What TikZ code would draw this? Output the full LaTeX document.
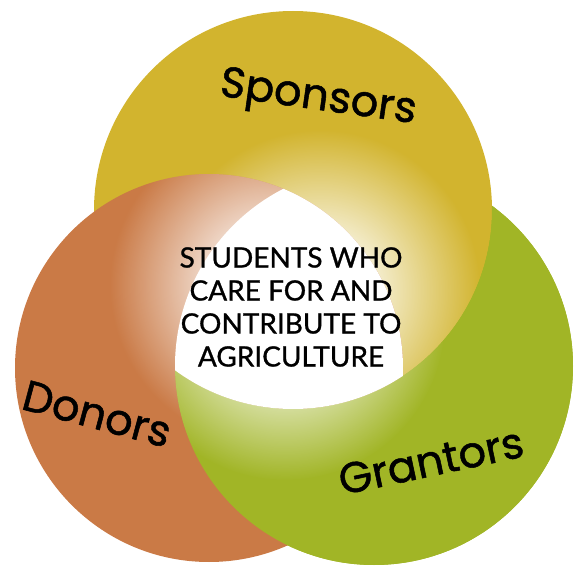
\documentclass[tikz,border=0pt]{standalone}
\usepackage{fontspec}
\setmainfont{Poppins}
\newfontfamily\namefont{Poppins}[FakeBold=1.2]
\newfontfamily\corefont{Lato}[FakeBold=1]
\usetikzlibrary{fadings}

\definecolor{sponsorcol}{RGB}{210,180,46}
\definecolor{donorcol}{RGB}{202,122,70}
\definecolor{grantorcol}{RGB}{161,181,38}

% white glow towards the middle
\pgfdeclareradialshading{glowshade}{\pgfpointorigin}{color(0bp)=(pgftransparent!0); color(5bp)=(pgftransparent!5); color(25bp)=(pgftransparent!100); color(50bp)=(pgftransparent!100)}
\pgfdeclarefading{glow}{\pgfuseshading{glowshade}}

\begin{document}
\begin{tikzpicture}[x=1pt,y=-1pt,
	groupname/.style={font=\namefont\fontsize{43}{48}\selectfont,inner sep=0pt},
	core/.style={font=\corefont\fontsize{28}{33}\selectfont,align=center,inner sep=0pt}]
	\useasboundingbox (0,0) rectangle (582,567);
	\coordinate (spons) at (293,210); % centres of the circles
	\coordinate (don) at (209,368);
	\coordinate (grant) at (374,366);
	\coordinate (sglow) at (320,290); % centres of the glows
	\coordinate (dglow) at (270,285);
	\coordinate (gglow) at (285,320);
	
	% Grantors, under Sponsors
	\fill[grantorcol] (grant) circle (199);
	\begin{scope}
		\clip (grant) circle (199);
		\fill[white,path fading=glow] (gglow) circle (160);
	\end{scope}
	% Sponsors
	\fill[sponsorcol] (spons) circle (199);
	\begin{scope}
		\clip (spons) circle (199);
		\fill[white,path fading=glow] (sglow) circle (160);
	\end{scope}
	% Donors
	\fill[donorcol] (don) circle (194);
	\begin{scope}
		\clip (don) circle (194);
		\fill[white,path fading=glow] (dglow) circle (160);
	\end{scope}
	% Grantors again, over Donors
	\begin{scope}[even odd rule]
		\clip (0,0) rectangle (582,567) (spons) circle (199);
		\fill[grantorcol] (grant) circle (199);
		\clip (grant) circle (199);
		\fill[white,path fading=glow] (gglow) circle (160);
	\end{scope}
	% the middle
	\begin{scope}
		\clip (don) circle (194);
		\clip (grant) circle (199);
		\fill[white] (spons) circle (199);
	\end{scope}
	
	\node[groupname,rotate=-8] (sponsors) at (318,100) {Sponsors};
	\node[groupname,rotate=-15] (donors) at (97,414) {Donors};
	\node[groupname,rotate=12] (grantors) at (431,461) {Grantors};
	\node[core] (students) at (291,307) {STUDENTS WHO\\CARE FOR AND\\CONTRIBUTE TO\\AGRICULTURE};
\end{tikzpicture}
\end{document}
